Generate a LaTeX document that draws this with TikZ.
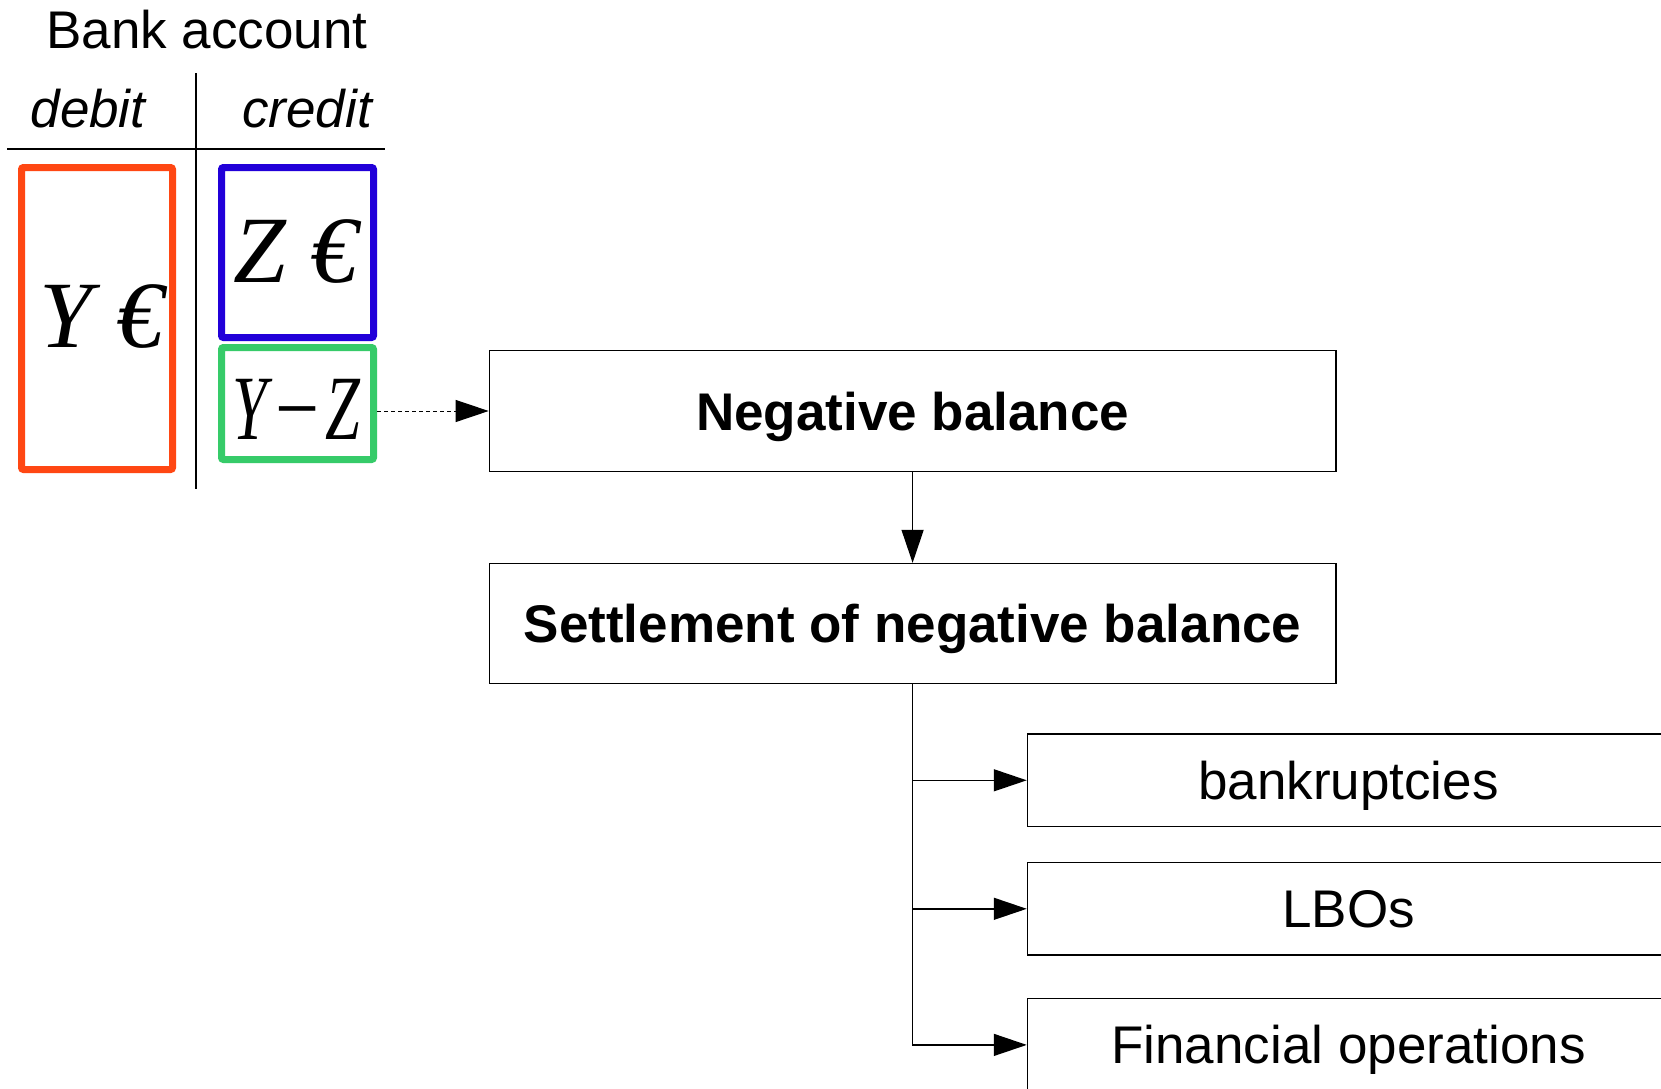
\documentclass[tikz,border=0pt]{standalone}
\usepackage{fontspec}
\setmainfont{Liberation Sans}
\newfontfamily\tnr{Liberation Serif}
\usetikzlibrary{arrows.meta}
\definecolor{debitred}{HTML}{FF4713}
\definecolor{creditblue}{HTML}{2100D9}
\definecolor{balgreen}{HTML}{36CB69}
\tikzset{
  lbl/.style={inner sep=0pt, font=\fontsize{26.5}{30}\selectfont},
  mathlbl/.style={inner sep=0pt, font=\fontsize{47.5}{52}\selectfont\tnr\itshape},
  colbox/.style={draw, line width=3.5pt, rounded corners=1pt, inner sep=0pt},
  flowbox/.style={draw, line width=0.75pt, inner sep=0pt, text height=19pt, text depth=0pt, font=\fontsize{26.5}{30}\selectfont},
  rule/.style={line width=0.6pt},
  tip/.style={-{Triangle[length=16.5pt,width=11pt]}},
  conn/.style={line width=0.7pt, tip},
  dashconn/.style={line width=0.5pt, dash pattern=on 2pt off 1.5pt, tip}
}
\begin{document}
\begin{tikzpicture}[x=0.5pt,y=-0.5pt]
\clip (0,0) rectangle (1661,1088);
\fill[white] (0,0) rectangle (1661,1088);

% table header
\node[lbl, anchor=base] (title) at (207,48) {Bank account};
\node[lbl, anchor=base] (debit) at (88,127) {\itshape debit};
\node[lbl, anchor=base] (credit) at (307,127) {\itshape credit};
\coordinate (hl) at (7,149);
\coordinate (hr) at (385,149);
\coordinate (vt) at (196,73);
\coordinate (vb) at (196,489);
\draw[rule] (hl) -- (hr);
\draw[rule] (vt) -- (vb);

% coloured boxes
\node[colbox, draw=debitred, minimum width=75.5pt, minimum height=151pt] (ybox) at (97,318.5) {};
\node[colbox, draw=creditblue, minimum width=76pt, minimum height=85pt] (zbox) at (297.5,252.5) {};
\node[colbox, draw=balgreen, minimum width=76pt, minimum height=56pt] (dbox) at (297.5,403.5) {};
\node[mathlbl, anchor=base] (ylab) at (101.5,347) {Y €};
\node[mathlbl, anchor=base] (zlab) at (295.5,282) {Z €};
\node[inner sep=0pt, anchor=base, font=\fontsize{46}{50}\selectfont\tnr\itshape] (dlab) at (296,439) {\scalebox{0.68}[1]{Y\kern2.5pt\scalebox{1.25}[1]{−}\kern1.5pt Z}};

% flow boxes
\node[flowbox, minimum width=423.2pt, minimum height=60.4pt, font=\fontsize{26.5}{30}\selectfont\bfseries] (neg) at (912.6,411) {Negative balance};
\node[flowbox, minimum width=423.2pt, minimum height=59.9pt, font=\fontsize{26.5}{30}\selectfont\bfseries] (settle) at (912.6,623.5) {Settlement of negative balance};
\node[flowbox, minimum width=321pt, minimum height=46.3pt] (bank) at (1348.5,780.3) {bankruptcies};
\node[flowbox, minimum width=321pt, minimum height=46.3pt] (lbo) at (1348.5,908.8) {LBOs};
\node[flowbox, minimum width=321pt, minimum height=46.3pt] (fin) at (1348.5,1044.9) {Financial operations};

% connectors
\draw[dashconn] (dbox.east |- neg.west) -- (neg.west);
\draw[conn] (neg.south) -- (settle.north);
\draw[conn] (settle.south) |- (bank.west);
\draw[conn] (settle.south) |- (lbo.west);
\draw[conn] (settle.south) |- (fin.west);
\end{tikzpicture}
\end{document}
